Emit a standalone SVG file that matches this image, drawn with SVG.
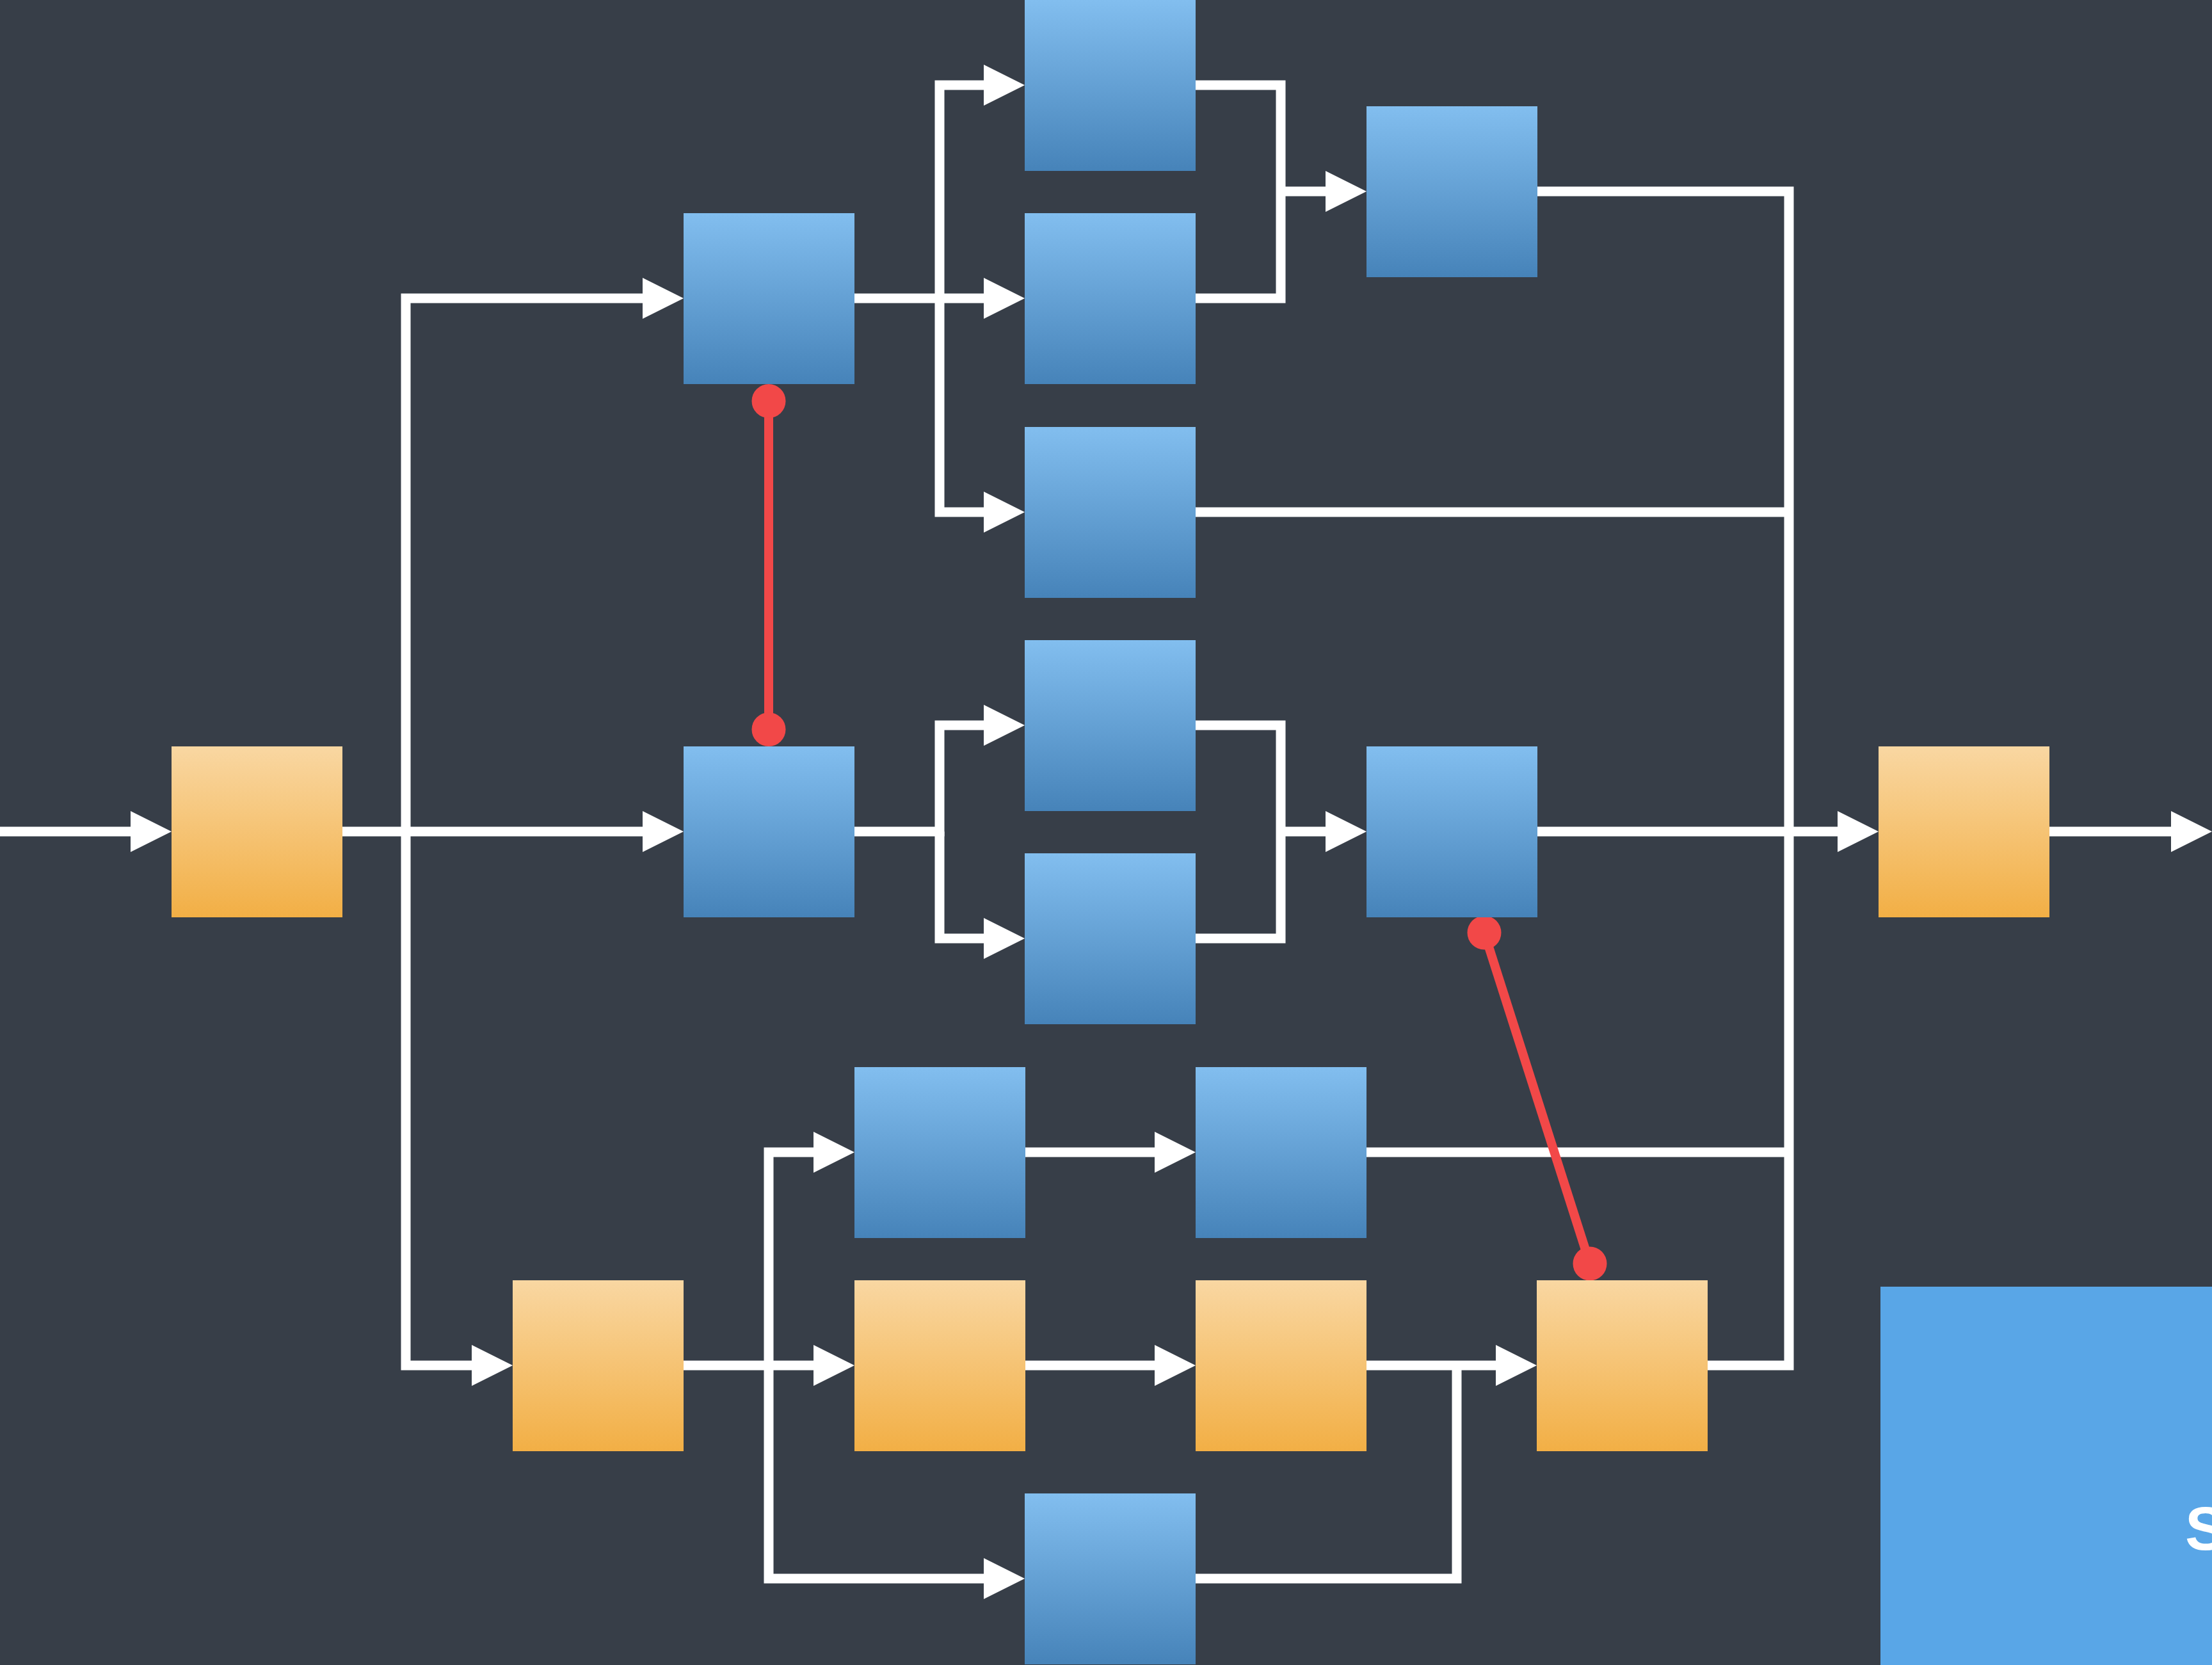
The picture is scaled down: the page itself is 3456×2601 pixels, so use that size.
<svg xmlns="http://www.w3.org/2000/svg" width="3456" height="2601" viewBox="0 0 3456 2601">
<style>
.blue{fill:url(#gBlue);}
.orange{fill:url(#gOrange);}
.wire{fill:none;stroke:#ffffff;stroke-width:15;stroke-linejoin:miter;stroke-linecap:butt;}
.arr{marker-end:url(#arrow);}
.link{fill:none;stroke:#F24848;stroke-width:14;marker-start:url(#dot);marker-end:url(#dot);}
.lbl{font-family:"Liberation Sans",Arial,sans-serif;font-weight:bold;font-size:96px;fill:#ffffff;}
</style>
<defs>
<linearGradient id="gBlue" x1="0" y1="0" x2="0" y2="1">
<stop offset="0" stop-color="#82BEEF"/>
<stop offset="1" stop-color="#4683B9"/>
</linearGradient>
<linearGradient id="gOrange" x1="0" y1="0" x2="0" y2="1">
<stop offset="0" stop-color="#F9D7A2"/>
<stop offset="1" stop-color="#F2AF45"/>
</linearGradient>
<marker id="arrow" markerUnits="userSpaceOnUse" markerWidth="64" markerHeight="64" refX="2" refY="32" orient="auto" overflow="visible">
<path d="M0,0 L64,32 L0,64 Z" fill="#ffffff"/>
</marker>
<marker id="dot" markerUnits="userSpaceOnUse" markerWidth="54" markerHeight="54" refX="27" refY="27" overflow="visible">
<circle cx="27" cy="27" r="26.5" fill="#F24848"/>
</marker>
</defs>
<rect width="3456" height="2601" fill="#373E48"/>

<g id="connectors">
<path class="wire arr" d="M0,1299 H206"/>
<path class="wire arr" d="M535,1299 H1006"/>
<path class="wire arr" d="M634,1299 V466 H1006"/>
<path class="wire arr" d="M634,1299 V2133 H739"/>
<path class="wire arr" d="M1335,466 H1539"/>
<path class="wire arr" d="M1468,466 V133 H1539"/>
<path class="wire arr" d="M1468,466 V800 H1539"/>
<path class="wire" d="M1868,133 H2001 V466 H1868"/>
<path class="wire arr" d="M2001,299 H2073"/>
<path class="wire" d="M2402,299 H2795 V2133 H2668"/>
<path class="wire" d="M1868,800 H2795"/>
<path class="wire" d="M2135,1800 H2795"/>
<path class="wire arr" d="M2402,1299 H2873"/>
<path class="wire arr" d="M1335,1299 H1468 V1133 H1539"/>
<path class="wire arr" d="M1468,1299 V1466 H1539"/>
<path class="wire" d="M1868,1133 H2001 V1466 H1868"/>
<path class="wire arr" d="M2001,1299 H2073"/>
<path class="wire arr" d="M3202,1299 H3394"/>
<path class="wire arr" d="M1068,2133 H1273"/>
<path class="wire arr" d="M1201,2133 V1800 H1273"/>
<path class="wire arr" d="M1201,2133 V2466 H1539"/>
<path class="wire arr" d="M1601,1800 H1806"/>
<path class="wire arr" d="M1601,2133 H1806"/>
<path class="wire arr" d="M2135,2133 H2339"/>
<path class="wire" d="M1868,2466 H2276 V2133"/>
<path class="link" d="M1201,626.5 V1139.5"/>
<path class="link" d="M2319,1457 L2484,1974"/>
</g>

<g id="o1"><rect class="orange" x="268" y="1166" width="267" height="267"/></g>
<g id="o2"><rect class="orange" x="2935" y="1166" width="267" height="267"/></g>
<g id="o3"><rect class="orange" x="801" y="2000" width="267" height="267"/></g>
<g id="o4"><rect class="orange" x="1335" y="2000" width="267" height="267"/></g>
<g id="o5"><rect class="orange" x="1868" y="2000" width="267" height="267"/></g>
<g id="o6"><rect class="orange" x="2401" y="2000" width="267" height="267"/></g>

<g id="b1"><rect class="blue" x="1601" y="0" width="267" height="267"/></g>
<g id="b2"><rect class="blue" x="1068" y="333" width="267" height="267"/></g>
<g id="b3"><rect class="blue" x="1601" y="333" width="267" height="267"/></g>
<g id="b4"><rect class="blue" x="2135" y="166" width="267" height="267"/></g>
<g id="b5"><rect class="blue" x="1601" y="667" width="267" height="267"/></g>
<g id="b6"><rect class="blue" x="1601" y="1000" width="267" height="267"/></g>
<g id="b7"><rect class="blue" x="1068" y="1166" width="267" height="267"/></g>
<g id="b8"><rect class="blue" x="2135" y="1166" width="267" height="267"/></g>
<g id="b9"><rect class="blue" x="1601" y="1333" width="267" height="267"/></g>
<g id="b10"><rect class="blue" x="1335" y="1667" width="267" height="267"/></g>
<g id="b11"><rect class="blue" x="1868" y="1667" width="267" height="267"/></g>
<g id="b12"><rect class="blue" x="1601" y="2333" width="267" height="267"/></g>

<g id="panel">
<rect x="2938" y="2010" width="518" height="591" fill="#59A6E7"/>
<text class="lbl" x="3414" y="2421">S</text>
</g>
</svg>
